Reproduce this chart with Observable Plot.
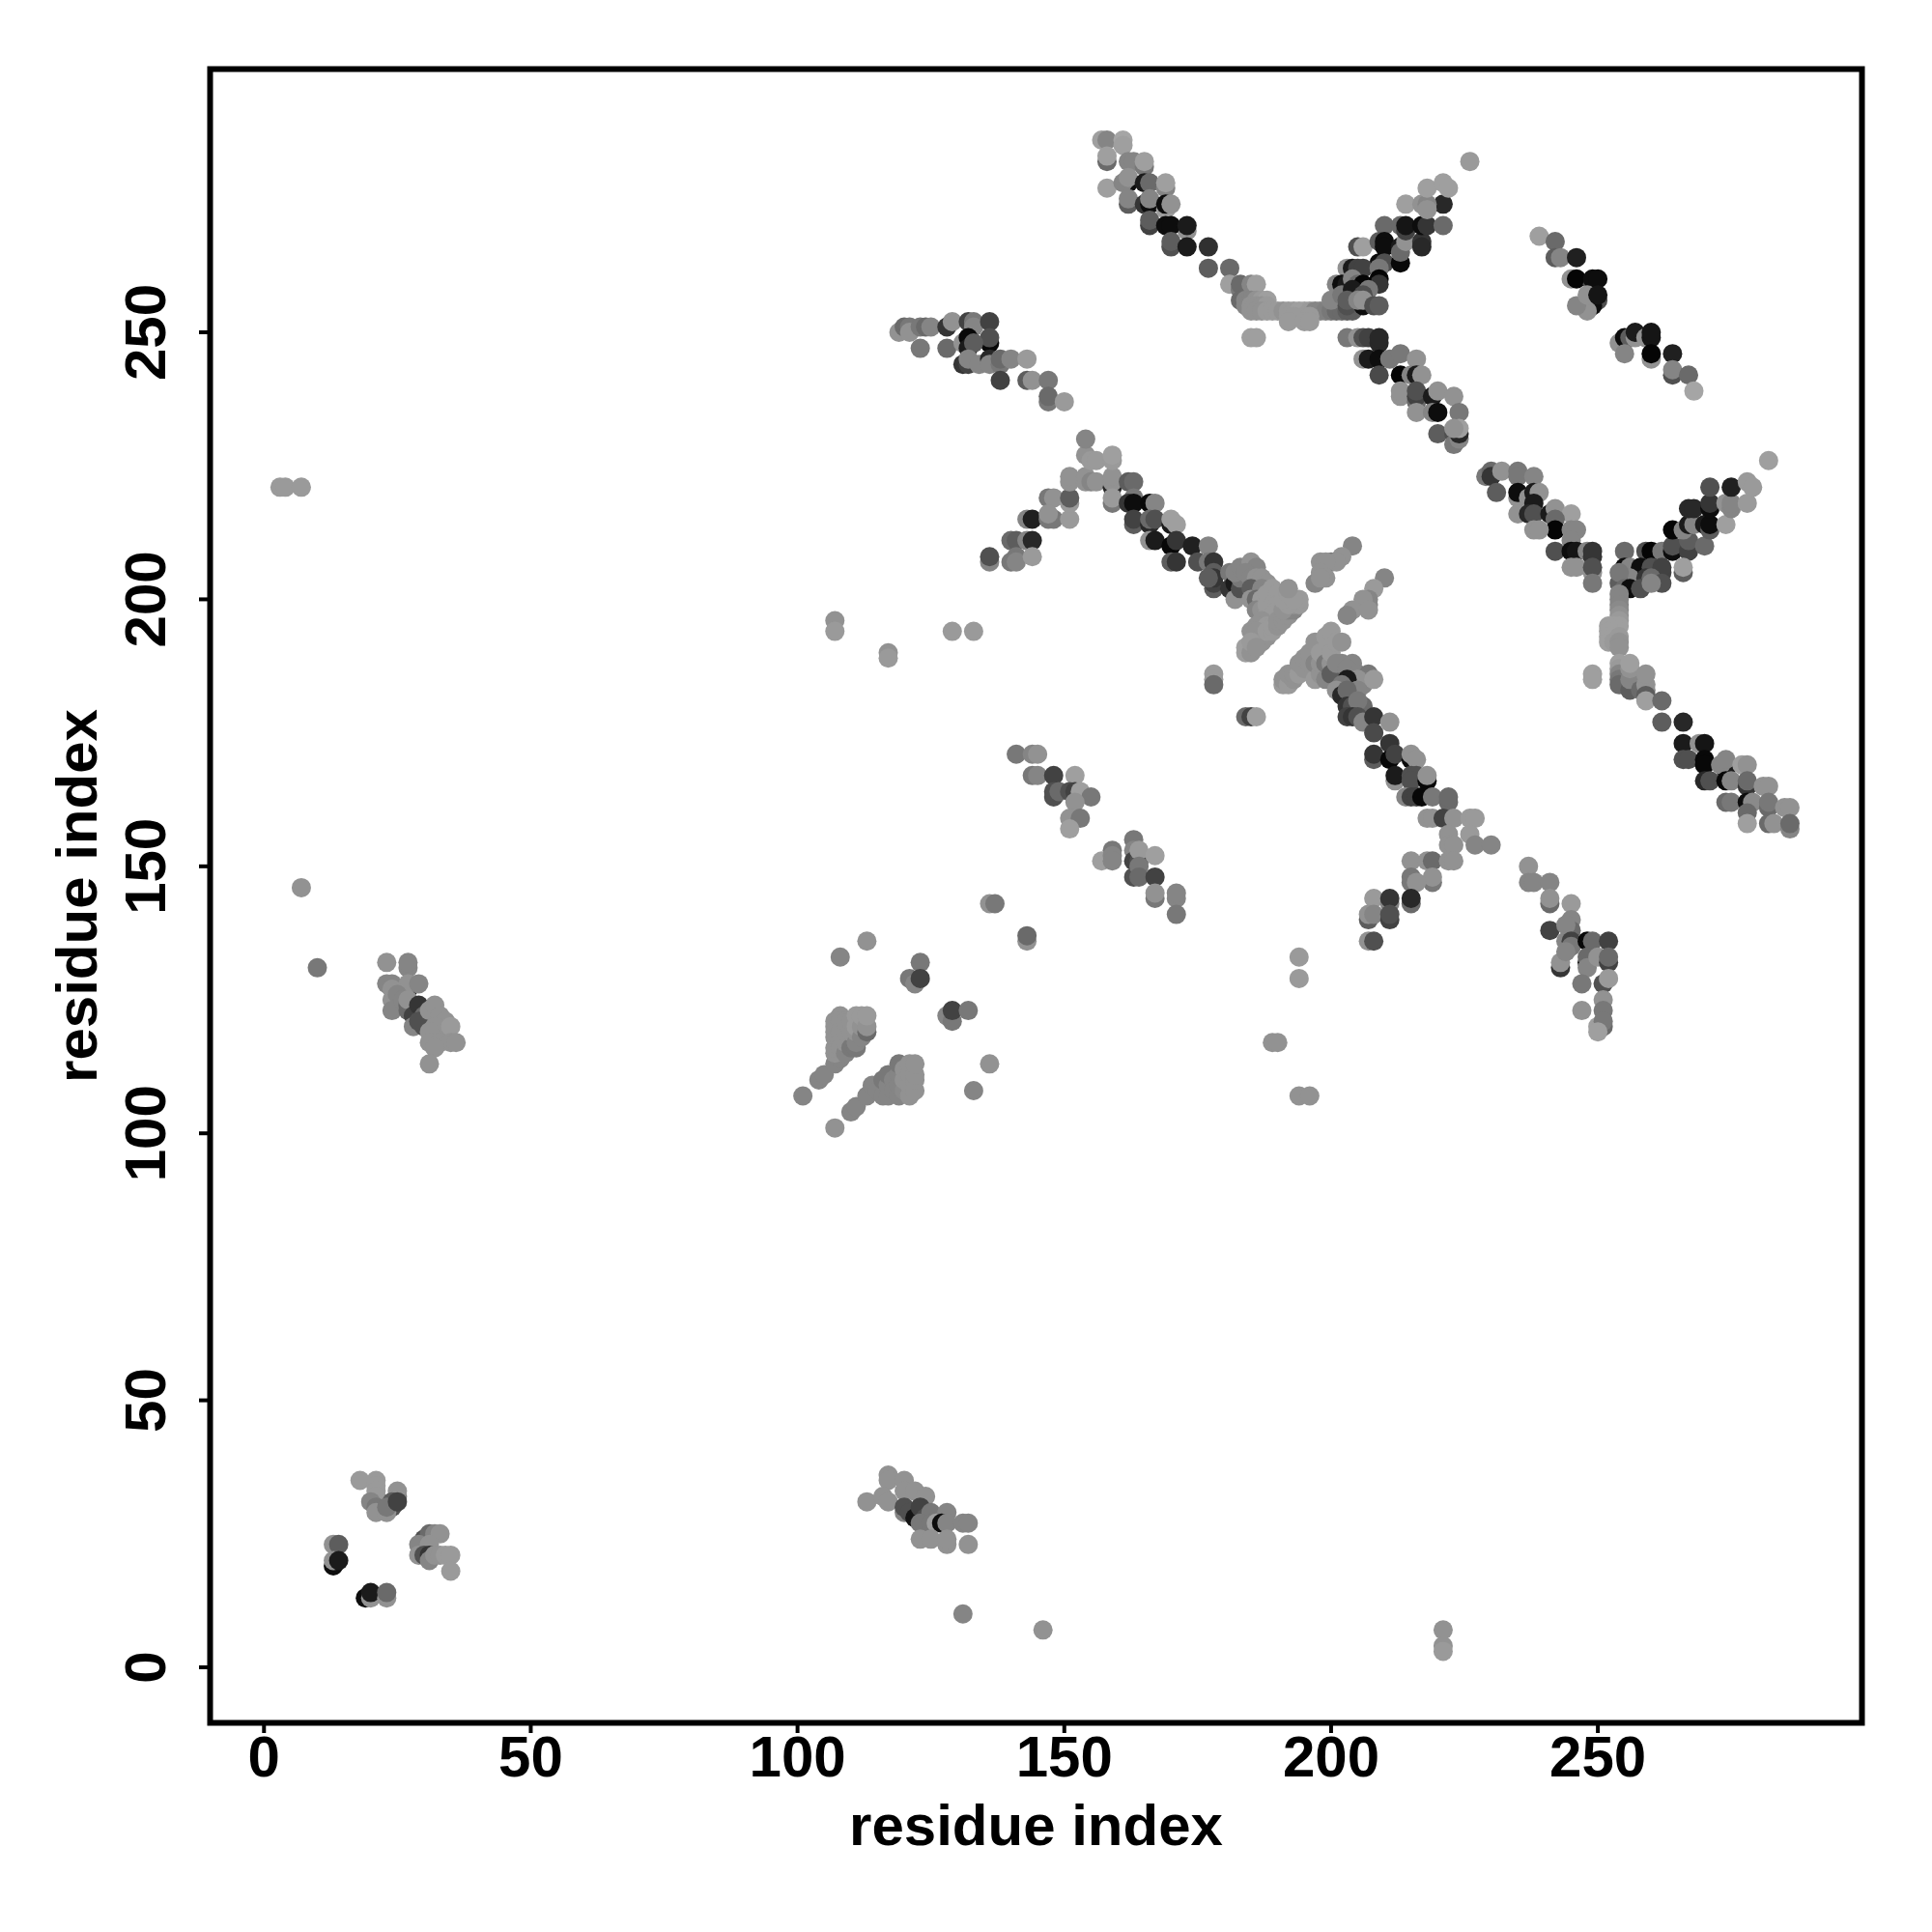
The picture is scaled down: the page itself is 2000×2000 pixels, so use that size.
<!DOCTYPE html>
<html><head><meta charset="utf-8">
<style>html,body{margin:0;padding:0;background:#fff}svg{display:block}</style>
<script src="https://cdn.jsdelivr.net/npm/d3@7"></script>
<script src="https://cdn.jsdelivr.net/npm/@observablehq/plot@0.6"></script>
</head><body><div id="chart"></div>
<script>
const xTicks=[0,50,100,150,200,250];
const yTicks=[0,50,100,150,200,250];
const axisLabel="residue index";
// each contact: [residue x, residue y, grey level]
const armTopLeft=[[157,286,.6],[158,286,.5],[161,286,.62],[161,285,.6],[158,282,.4],[158,283,.6],[162,282,.5],[163,282,.5],[165,281,.45],[165,282,.6],[158,277,.6],[162,278,.05],[161,278,.5],[162,279,.55],[165,278,.1],[166,278,.4],[169,277,.5],[169,278,.6],[162,274,.35],[162,275,.5],[165,274,.2],[166,274,.05],[166,275,.5],[169,273,.6],[169,274,.05],[170,274,.55],[166,270,.25],[166,271,.35],[173,269,.55],[169,270,.05],[170,270,.05],[173,270,.1],[170,266,.3],[170,267,.35],[173,266,.1],[177,266,.18],[177,262,.35],[181,262,.4],[181,259,.6],[183,258,.45],[183,259,.4],[183,256,.4],[185,259,.5],[186,259,.6]];
const bandTop=[[184,256,.5],[185,256,.5],[186,256,.55],[187,256,.58],[188,256,.6],[184,255,.5],[185,255,.55],[186,255,.55],[187,255,.55],[188,255,.58],[185,254,.55],[186,254,.55],[187,254,.55],[188,254,.58],[189,254,.58],[190,254,.58],[191,254,.55],[192,254,.58],[193,254,.58],[194,254,.6],[195,254,.6],[196,254,.58],[197,254,.5],[198,254,.5],[199,254,.48],[200,254,.45],[201,254,.4],[202,254,.4],[203,254,.35],[204,254,.35],[192,253,.58],[193,253,.58],[195,253,.58],[196,253,.58],[192,252,.58],[195,252,.58],[196,252,.58],[185,249,.6],[186,249,.6]];
const armTopRight=[[205,266,.3],[206,266,.6],[210,270,.4],[214,274,.6],[209,267,.35],[210,267,.05],[210,266,.05],[209,263,.05],[210,263,.3],[213,263,.03],[213,266,.1],[213,265,.4],[214,267,.55],[217,267,.2],[217,266,.15],[213,270,.4],[214,269,.25],[214,270,.08],[217,270,.05],[218,270,.2],[221,270,.4],[221,274,.15],[217,274,.55],[218,274,.5],[218,273,.55],[218,277,.6],[221,278,.6],[222,277,.6],[226,282,.58],[203,262,.55],[204,262,.1],[205,262,.25],[206,262,.25],[209,262,.45],[209,260,.02],[209,259,.2],[201,259,.5],[202,259,.05],[203,259,.1],[204,260,.5],[205,259,.4],[206,259,.02],[200,256,.5],[202,257,.45],[204,258,.1],[207,258,.45],[206,257,.3],[203,255,.3],[203,256,.35],[206,255,.05],[205,256,.5],[206,256,.55],[208,255,.3],[209,255,.35]];
const armUpperMid=[[203,249,.45],[205,249,.55],[206,249,.3],[207,249,.25],[209,248,.15],[209,249,.15],[206,245,.55],[207,245,.1],[209,245,.05],[211,245,.45],[213,246,.45],[216,245,.55],[209,242,.28],[213,242,.02],[215,242,.5],[216,242,.1],[217,242,.55],[213,238,.55],[213,239,.55],[216,237,.4],[216,238,.25],[216,239,.3],[219,238,.1],[220,239,.55],[223,238,.55],[216,235,.55],[219,235,.5],[220,235,.05],[224,235,.45],[220,231,.35],[223,231,.3],[223,229,.45],[224,230,.5],[224,231,.15],[224,232,.6],[223,232,.55]];
const armFarTop=[[239,268,.6],[242,267,.4],[242,264,.35],[243,264,.5],[246,264,.12],[245,260,.55],[246,260,.02],[249,259,.3],[249,260,.05],[250,260,.05],[250,256,.3],[249,255,.05],[248,254,.55],[246,255,.5],[248,257,.55],[250,257,.08],[254,248,.55],[255,249,.05],[256,249,.35],[257,249,.55],[257,250,.1],[259,249,.55],[260,249,.08],[260,250,.08],[260,245,.55],[260,246,.02],[255,246,.5],[264,246,.12],[264,242,.3],[264,243,.5],[267,242,.4],[268,239,.62]];
const armMidRightDown=[[282,226,.6],[229,223,.45],[230,224,.4],[230,223,.2],[232,224,.55],[235,224,.45],[235,223,.45],[238,223,.5],[231,220,.35],[235,219,.55],[235,220,.05],[237,219,.55],[238,220,.1],[239,220,.55],[235,216,.55],[238,218,.1],[237,216,.15],[238,216,.3],[241,216,.1],[242,216,.1],[242,217,.55],[245,216,.6],[242,215,.4],[242,213,.02],[238,213,.55],[239,213,.55],[245,213,.5],[246,213,.5],[245,211,.5],[242,209,.3],[245,209,.05],[246,209,.08],[248,209,.5],[249,208,.2],[249,209,.2],[245,206,.55],[246,206,.55],[249,205,.55],[249,206,.3]];
const armMidRightUp=[[255,209,.4],[259,209,.3],[260,209,.02],[262,209,.45],[264,209,.05],[264,210,.3],[267,209,.25],[267,211,.35],[270,210,.4],[264,213,.02],[266,213,.5],[267,214,.1],[268,214,.5],[270,214,.1],[271,213,.35],[271,214,.05],[274,214,.6],[267,217,.15],[268,217,.15],[271,217,.05],[271,218,.2],[274,218,.55],[275,217,.5],[275,218,.5],[278,218,.58],[271,221,.3],[275,221,.12],[278,222,.58],[279,221,.58],[255,206,.05],[256,206,.5],[258,206,.05],[260,206,.3],[262,205,.25],[262,206,.25],[266,205,.35],[266,206,.6],[255,204,.4],[256,204,.5],[259,204,.2],[260,204,.4],[262,203,.3],[254,203,.35],[254,205,.45],[255,202,.4],[256,202,.05],[258,202,.3],[260,203,.5]];
const bandRight=[[249,186,.6],[249,185,.6],[249,203,.45],[254,201,.5],[254,200,.5],[254,199,.5],[254,198,.52],[254,197,.55],[254,196,.58],[254,195,.6],[253,195,.6],[252,195,.6],[252,194,.6],[252,193,.6],[252,192,.6],[253,193,.6],[253,192,.58],[254,193,.58],[254,192,.55],[254,191,.55],[254,188,.6],[254,187,.58],[254,186,.5],[254,185,.45],[254,184,.4],[256,183,.35],[256,185,.5],[256,187,.55],[256,188,.6],[259,183,.5],[258,183,.4],[259,184,.55],[259,186,.55],[259,182,.35],[259,181,.6],[262,181,.4],[262,177,.35],[266,177,.15],[266,173,.1],[269,173,.55],[270,173,.08]];
const armFarBottom=[[266,170,.3],[267,170,.3],[270,170,.03],[270,169,.03],[270,166,.15],[271,166,.3],[274,168,.1],[273,169,.5],[274,170,.5],[277,169,.6],[278,169,.55],[274,166,.03],[275,166,.5],[278,165,.2],[278,166,.4],[274,162,.4],[275,162,.45],[278,162,.05],[279,162,.52],[278,160,.4],[281,165,.55],[282,165,.55],[282,161,.4],[282,162,.45],[278,158,.6],[282,158,.4],[283,158,.55],[285,161,.55],[286,161,.55],[286,157,.5],[286,158,.4]];
const arm250=[[119,250,.55],[120,251,.4],[121,251,.45],[121,250,.55],[123,251,.45],[124,251,.4],[125,251,.5],[123,247,.45],[128,251,.2],[129,252,.55],[128,247,.4],[132,252,.25],[133,252,.45],[133,251,.5],[136,252,.25],[136,248,.03],[136,249,.3],[131,248,.55],[132,249,.03],[132,247,.1],[133,248,.35],[131,244,.2],[132,244,.25],[132,245,.5],[134,244,.5],[136,245,.15],[136,244,.5],[138,244,.45],[138,245,.4],[140,245,.5],[143,245,.58],[138,241,.25],[143,241,.35],[144,241,.55],[147,241,.45],[147,237,.45],[147,238,.4],[150,237,.58]];
const armUpRise=[[136,207,.5],[136,208,.3],[140,211,.4],[141,211,.35],[143,211,.5],[144,211,.15],[140,207,.45],[141,208,.45],[141,207,.5],[144,208,.58],[143,215,.5],[144,215,.12],[147,215,.45],[148,215,.45],[151,215,.58],[147,219,.45],[148,219,.55],[151,218,.58],[151,219,.35],[147,216,.55],[151,222,.55],[151,223,.55],[154,222,.55],[154,223,.55],[155,222,.5],[156,222,.55],[154,227,.55],[155,226,.58],[156,226,.58],[154,230,.5],[159,221,.15],[159,222,.55],[159,223,.55],[159,226,.58],[159,227,.6]];
const armCentreUpper=[[159,218,.45],[159,219,.58],[162,222,.35],[163,222,.4],[163,219,.45],[162,218,.2],[163,218,.05],[166,218,.03],[167,218,.5],[163,214,.35],[163,215,.25],[166,214,.15],[166,215,.4],[167,215,.3],[170,214,.1],[170,215,.6],[171,214,.6],[166,211,.55],[167,211,.1],[170,210,.03],[171,211,.2],[174,210,.12],[170,207,.35],[171,207,.2],[175,207,.3],[177,210,.5],[177,207,.45],[178,207,.2],[178,205,.35],[178,202,.35],[178,203,.25],[178,204,.2],[177,204,.35]];
const blockUpperLeft=[[181,205,.45],[181,202,.2],[182,203,.1],[184,203,.1],[182,200,.55],[183,202,.3],[183,204,.45],[182,205,.5],[183,206,.5],[185,207,.55],[186,206,.5],[184,205,.5],[185,204,.5],[186,204,.55],[187,204,.55],[188,203,.55],[186,202,.55],[185,202,.35],[187,202,.5],[185,200,.55],[186,200,.4],[187,200,.58],[188,201,.58],[189,202,.58],[189,200,.58],[190,201,.58],[186,198,.5],[187,198,.55],[188,199,.58],[189,199,.58],[190,199,.58],[190,198,.58],[188,197,.58],[189,197,.58],[187,196,.55],[186,195,.55],[188,195,.58],[185,194,.55],[186,194,.55],[186,192,.55],[187,192,.55],[187,193,.55],[188,193,.55],[188,194,.58],[189,194,.58],[189,195,.58],[190,195,.55],[190,196,.55],[191,196,.55],[191,197,.55],[192,197,.55],[192,198,.5],[193,198,.5],[193,199,.55],[194,199,.58],[194,200,.58],[191,198,.55],[192,199,.58],[191,200,.58],[192,201,.58],[193,200,.58],[192,202,.55],[184,190,.6],[184,191,.6],[185,190,.55],[185,192,.58],[186,191,.55]];
const blockLowerRight=[[191,184,.58],[191,185,.55],[192,184,.58],[192,186,.55],[193,185,.55],[193,186,.55],[194,186,.58],[194,188,.55],[195,187,.55],[195,189,.55],[196,188,.55],[196,190,.55],[197,185,.58],[197,188,.5],[197,192,.55],[198,186,.55],[198,188,.55],[198,190,.58],[199,185,.5],[199,188,.45],[199,193,.58],[200,188,.55],[200,190,.58],[200,194,.58],[201,186,.5],[201,192,.58],[202,188,.5],[202,192,.55],[200,186,.35],[201,188,.5],[204,188,.5],[203,187,.5],[205,186,.5],[207,186,.45],[206,184,.5],[205,185,.55],[203,185,.1],[202,184,.45],[201,183,.55],[202,182,.15],[204,182,.1],[205,183,.5],[203,183,.4],[203,180,.2],[204,180,.3],[206,180,.4],[205,181,.45],[208,185,.58],[203,178,.25],[204,178,.2],[205,178,.3],[206,177,.5],[208,178,.2],[208,175,.28],[211,177,.55]];
const diagFragments=[[204,210,.5],[202,208,.55],[200,207,.45],[201,207,.55],[198,207,.55],[199,207,.55],[198,205,.55],[199,204,.55],[197,203,.5],[198,204,.55],[210,204,.5],[208,202,.58],[207,200,.5],[207,199,.5],[206,200,.55],[204,198,.55],[203,197,.5],[207,198,.55],[178,186,.58],[178,185,.58],[178,184,.4],[184,178,.4],[185,178,.25],[186,178,.6]];
const armCentreLower=[[211,173,.2],[208,170,.35],[208,171,.2],[211,170,.03],[212,171,.25],[215,170,.05],[215,171,.55],[216,170,.55],[212,166,.55],[212,167,.1],[215,167,.3],[216,167,.3],[215,166,.3],[214,163,.5],[215,163,.25],[216,163,.25],[218,166,.03],[218,167,.55],[217,163,.03],[219,163,.45],[222,162,.4],[222,163,.4],[218,159,.55],[219,159,.55],[221,159,.25],[223,159,.55],[226,159,.58],[227,159,.58],[222,156,.55],[226,156,.58],[222,154,.55],[223,154,.55],[227,154,.5],[230,154,.5],[215,151,.55],[218,151,.55],[219,151,.4],[222,151,.55],[223,151,.55],[219,147,.45],[219,148,.55],[215,147,.45],[215,148,.45],[216,147,.55],[208,144,.58],[211,143,.5],[211,144,.2],[215,143,.4],[215,144,.15],[207,140,.35],[207,141,.55],[208,141,.5],[211,140,.25],[211,141,.3],[207,136,.55],[208,136,.3]];
const armLowerRight=[[237,150,.55],[237,147,.5],[238,147,.5],[241,147,.5],[241,143,.4],[241,144,.55],[245,143,.58],[245,140,.5],[245,138,.4],[241,138,.25],[244,139,.5],[244,136,.5],[245,136,.25],[245,135,.45],[248,136,.03],[249,136,.4],[252,136,.25],[243,131,.2],[243,132,.55],[244,134,.5],[248,132,.05],[248,133,.4],[248,131,.5],[250,133,.55],[252,132,.25],[252,133,.4],[251,128,.3],[252,129,.58],[247,128,.45],[251,125,.55],[251,123,.45],[247,123,.55],[250,120,.6],[251,120,.4],[251,121,.45],[250,119,.6]];
const armMid150=[[141,171,.45],[144,171,.5],[145,171,.55],[144,167,.45],[145,167,.5],[148,167,.25],[152,167,.6],[148,163,.3],[148,164,.3],[149,164,.4],[151,164,.3],[152,164,.25],[153,164,.6],[155,163,.45],[152,162,.55],[151,159,.55],[153,159,.45],[151,157,.6],[163,155,.45],[159,153,.45],[157,151,.6],[159,152,.5],[159,151,.5],[163,153,.5],[163,151,.25],[164,151,.3],[164,153,.58],[167,152,.6],[163,148,.3],[164,150,.45],[164,148,.4],[167,148,.25],[167,144,.45],[167,145,.55],[171,144,.5],[171,145,.5],[171,141,.45]];
const blockResidue110=[[101,107,.5],[104,110,.5],[105,111,.5],[107,113,.5],[108,114,.5],[107,115,.55],[107,116,.55],[107,118,.55],[107,119,.55],[107,120,.55],[107,121,.55],[108,122,.55],[108,121,.55],[108,119,.55],[108,117,.55],[108,116,.55],[109,115,.5],[109,117,.55],[109,119,.55],[109,121,.55],[110,116,.45],[110,119,.55],[110,121,.55],[111,116,.45],[111,117,.5],[111,119,.55],[111,122,.58],[111,120,.58],[112,118,.5],[112,120,.55],[112,122,.58],[113,119,.4],[113,120,.55],[113,122,.58],[107,101,.55],[110,104,.5],[111,105,.5],[113,107,.5],[114,109,.5],[115,108,.5],[116,107,.5],[116,110,.45],[117,107,.5],[117,109,.5],[117,111,.45],[118,110,.5],[118,108,.5],[119,107,.5],[119,109,.5],[119,111,.5],[119,113,.45],[120,108,.52],[120,110,.55],[120,112,.55],[121,107,.55],[121,109,.55],[121,111,.55],[121,113,.55],[122,108,.55],[122,110,.55],[122,111,.55],[122,113,.55]];
const scatterMid=[[113,136,.55],[108,133,.5],[123,132,.45],[121,129,.45],[122,128,.5],[123,129,.25],[128,122,.5],[129,121,.45],[129,123,.25],[132,123,.45],[136,113,.55],[133,108,.5],[136,143,.55],[137,143,.45],[143,136,.55],[143,137,.4],[194,133,.58],[194,129,.58],[189,117,.55],[190,117,.55],[194,107,.55],[196,107,.55],[107,196,.55],[107,194,.58],[117,190,.55],[117,189,.58],[129,194,.58],[133,194,.58]];
const scatterEdge=[[3,221,.58],[4,221,.58],[7,221,.58],[7,146,.55],[10,131,.45],[131,10,.5],[146,7,.55],[221,7,.55],[221,4,.55],[221,3,.58]];
const blockResidue30=[[23,132,.55],[27,131,.5],[27,132,.5],[23,128,.5],[24,128,.5],[27,127,.12],[27,128,.55],[29,128,.5],[24,125,.55],[24,123,.5],[24,127,.55],[25,126,.5],[26,125,.5],[27,124,.4],[27,123,.4],[27,125,.55],[28,122,.25],[29,124,.2],[28,120,.5],[30,122,.4],[30,120,.3],[29,121,.3],[31,123,.55],[32,124,.55],[33,122,.55],[34,121,.55],[33,119,.55],[32,120,.55],[35,120,.58],[31,119,.55],[31,117,.55],[33,117,.55],[35,117,.55],[36,117,.55],[32,116,.55],[31,113,.55]];
const blockResidue20=[[18,35,.58],[21,35,.58],[21,34,.58],[21,33,.58],[21,32,.58],[25,32,.45],[25,33,.55],[20,31,.5],[21,30,.45],[21,29,.55],[24,30,.3],[24,31,.35],[23,29,.55],[23,30,.45],[25,31,.25],[13,23,.55],[14,23,.35],[13,19,.05],[13,20,.55],[14,20,.1],[19,13,.05],[20,13,.55],[20,14,.1],[23,13,.55],[23,14,.4],[30,24,.3],[31,25,.4],[32,25,.5],[33,25,.55],[29,23,.5],[31,23,.55],[29,21,.55],[30,21,.3],[31,21,.2],[31,20,.5],[32,21,.55],[33,21,.55],[34,21,.58],[35,21,.58],[35,18,.58]];
const blockResidue120=[[113,31,.55],[117,36,.55],[117,35,.55],[116,32,.55],[117,31,.55],[120,35,.55],[120,33,.55],[122,33,.55],[124,32,.55],[120,29,.5],[120,30,.3],[121,29,.3],[122,28,.08],[123,30,.25],[124,28,.3],[125,29,.45],[128,29,.5],[123,27,.45],[125,27,.45],[126,27,.6],[127,27,.05],[128,27,.5],[123,24,.55],[125,24,.55],[128,23,.55],[128,24,.55],[131,27,.5],[132,27,.5],[132,23,.55]];

const contacts=[armTopLeft,bandTop,armTopRight,armUpperMid,armFarTop,armMidRightDown,armMidRightUp,bandRight,armFarBottom,arm250,armUpRise,armCentreUpper,blockUpperLeft,blockLowerRight,diagFragments,armCentreLower,armLowerRight,armMid150,blockResidue110,scatterMid,scatterEdge,blockResidue30,blockResidue20,blockResidue120].flat();

const font="'Liberation Sans', Arial, sans-serif";
const chart=Plot.plot({
  width:2000,height:2000,
  marginLeft:217,marginRight:73,marginTop:71,marginBottom:217,
  style:{background:"#fff",fontFamily:font},
  x:{domain:[-10.1,299.5],label:null},
  y:{domain:[-10.4,299.3],label:null},
  color:{type:"linear",domain:[0,.96],range:["#000000","#ffffff"]},
  marks:[
    Plot.dot(contacts,{x:d=>d[0],y:d=>d[1],r:10,fill:d=>d[2],stroke:null}),
    Plot.frame({stroke:"#000",strokeWidth:6}),
    Plot.axisX({ticks:xTicks,tickSize:11,tickPadding:2,strokeWidth:4,fontSize:60,fontWeight:"bold",fill:"#000",tickFormat:d=>String(d),label:axisLabel,labelAnchor:"center",labelArrow:"none",labelOffset:126}),
    Plot.axisY({ticks:yTicks,tickSize:11,tickPadding:36,strokeWidth:4,fontSize:60,fontWeight:"bold",fill:"#000",tickRotate:-90,textAnchor:"middle",tickFormat:d=>String(d),label:axisLabel,labelAnchor:"center",labelArrow:"none",labelOffset:160})
  ]
});
document.getElementById("chart").appendChild(chart);
</script></body></html>
